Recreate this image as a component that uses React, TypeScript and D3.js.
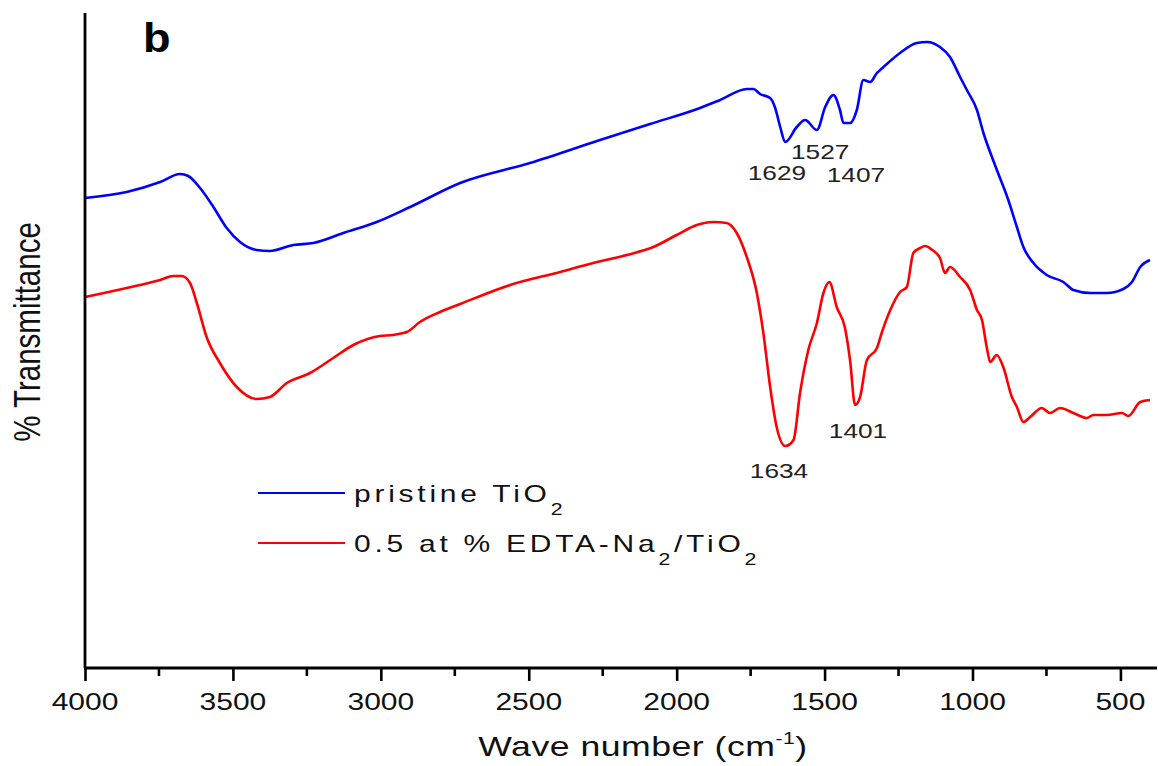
import React, { useEffect, useRef } from 'react';
import * as d3 from 'd3';

// x axis ticks (wave number, cm-1)
const xTicks = [4000, 3500, 3000, 2500, 2000, 1500, 1000, 500];
const xMinorTicks = [3750, 3250, 2750, 2250, 1750, 1250, 750];

// pristine TiO2 spectrum (wave number, transmittance in arbitrary units)
const pristineWave = [4000, 3859, 3746, 3679, 3651, 3611, 3566, 3521, 3476, 3420, 3375, 3296, 3228, 3127, 3014, 2901, 2732, 2496, 2259, 2090, 1921, 1853, 1763, 1741, 1718, 1684, 1667, 1650, 1633, 1594, 1566, 1526, 1498, 1470, 1448, 1436, 1414, 1391, 1369, 1346, 1323, 1301, 1245, 1188, 1154, 1110, 1076, 1042, 1019, 985, 963, 924, 879, 850, 828, 794, 749, 693, 659, 602, 546, 490, 461, 433, 400];
const pristineT = [47.0, 47.6, 48.6, 49.4, 49.2, 48.0, 46.1, 44.0, 42.6, 41.8, 41.7, 42.3, 42.5, 43.5, 44.6, 46.1, 48.5, 50.5, 52.8, 54.4, 56.0, 56.8, 57.9, 57.9, 57.4, 57.0, 56.0, 54.1, 52.6, 54.1, 54.8, 53.8, 56.1, 57.3, 55.8, 54.5, 54.5, 55.8, 58.8, 58.6, 59.5, 60.1, 61.5, 62.5, 62.6, 62.1, 61.1, 59.1, 57.8, 55.8, 53.5, 50.3, 46.8, 44.1, 42.1, 40.5, 39.3, 38.6, 37.8, 37.5, 37.5, 37.9, 38.6, 40.1, 40.8];

// 0.5 at % EDTA-Na2/TiO2 spectrum
const edtaWave = [4000, 3859, 3746, 3701, 3673, 3645, 3622, 3589, 3544, 3487, 3420, 3375, 3318, 3239, 3161, 3093, 3003, 2958, 2924, 2912, 2868, 2800, 2732, 2563, 2394, 2282, 2169, 2079, 2000, 1932, 1876, 1831, 1797, 1763, 1729, 1707, 1684, 1662, 1633, 1605, 1583, 1555, 1526, 1504, 1484, 1459, 1431, 1414, 1397, 1380, 1357, 1323, 1307, 1278, 1245, 1222, 1200, 1177, 1160, 1136, 1110, 1093, 1076, 1042, 1008, 985, 968, 952, 940, 918, 896, 867, 850, 828, 805, 766, 738, 704, 659, 614, 591, 546, 495, 473, 433, 400];
const edtaT = [37.1, 38.0, 38.8, 39.2, 39.2, 38.5, 36.5, 33.1, 30.5, 28.1, 26.9, 27.1, 28.5, 29.5, 31.0, 32.3, 33.2, 33.3, 33.5, 33.6, 34.6, 35.6, 36.4, 38.3, 39.6, 40.5, 41.3, 42.1, 43.3, 44.3, 44.6, 44.5, 43.5, 41.1, 37.5, 33.5, 28.1, 24.1, 22.2, 22.8, 27.5, 31.8, 34.5, 37.5, 38.6, 36.1, 34.0, 30.8, 26.3, 27.1, 30.8, 32.0, 33.5, 35.8, 37.6, 38.1, 41.5, 42.0, 42.2, 41.8, 41.0, 39.5, 40.1, 39.1, 37.8, 35.8, 34.8, 32.1, 30.6, 31.3, 30.1, 27.1, 26.1, 24.6, 25.1, 26.0, 25.5, 26.0, 25.5, 25.0, 25.3, 25.3, 25.5, 25.2, 26.6, 26.8];

// peak annotations: text and where they sit (data units)
const peakText = ['1629', '1527', '1407', '1634', '1401'];
const peakWave = [1661, 1515, 1394, 1654, 1387];
const peakT = [48.8, 50.9, 48.6, 19.0, 23.0];

const seriesNames = ['pristine TiO', '0.5 at % EDTA-Na'];

const FONT = '"Liberation Sans", Arial, sans-serif';
const SX = 1.25; // the source figure is stretched horizontally

const App = () => {
    const svgRef = useRef<SVGSVGElement>(null);

    useEffect(() => {
        const width = 1158;
        const height = 766;

        const svg = d3.select(svgRef.current);
        svg.selectAll('*').remove();
        svg.attr('width', width).attr('height', height);

        const x = d3.scaleLinear().domain([4000, 400]).range([85, 1150]);
        const y = d3.scaleLinear().domain([0, 65.5]).range([668, 13]);

        // helper for horizontally stretched text
        const label = (px: number, py: number, size: number, anchor: string, sx = SX) => {
            const g = svg.append('g').attr('transform', `translate(${px},${py}) scale(${sx},1)`);
            return g.append('text')
                .attr('text-anchor', anchor)
                .attr('font-family', FONT)
                .attr('font-size', size)
                .attr('fill', '#111');
        };

        // spectra
        const line = d3.line<[number, number]>()
            .x(d => x(d[0]))
            .y(d => y(d[1]))
            .curve(d3.curveMonotoneX);

        const pristine = pristineWave.map((w, i) => [w, pristineT[i]] as [number, number]);
        const edta = edtaWave.map((w, i) => [w, edtaT[i]] as [number, number]);

        svg.append('path')
            .attr('d', line(pristine))
            .attr('fill', 'none')
            .attr('stroke', '#0000ff')
            .attr('stroke-width', 2.6)
            .attr('stroke-linejoin', 'round');

        svg.append('path')
            .attr('d', line(edta))
            .attr('fill', 'none')
            .attr('stroke', '#ff0000')
            .attr('stroke-width', 2.6)
            .attr('stroke-linejoin', 'round');

        // axes
        const axisY = 668;
        const axis = svg.append('g').attr('transform', `translate(0,${axisY})`);
        axis.call(d3.axisBottom(x).tickValues(xTicks).tickSize(13).tickSizeOuter(0).tickFormat(() => ''));
        axis.select('.domain').remove();
        axis.selectAll('.tick line').attr('stroke', '#000').attr('stroke-width', 2.6);

        axis.selectAll('.minor')
            .data(xMinorTicks)
            .enter()
            .append('line')
            .attr('x1', d => x(d))
            .attr('x2', d => x(d))
            .attr('y1', 0)
            .attr('y2', 8)
            .attr('stroke', '#000')
            .attr('stroke-width', 2.6);

        svg.append('line')
            .attr('x1', 84).attr('x2', 1157)
            .attr('y1', axisY).attr('y2', axisY)
            .attr('stroke', '#000').attr('stroke-width', 2.8);

        svg.append('line')
            .attr('x1', 85).attr('x2', 85)
            .attr('y1', 13).attr('y2', axisY)
            .attr('stroke', '#000').attr('stroke-width', 2.8);

        // tick labels
        xTicks.forEach(t => {
            label(x(t), 710, 24, 'middle').text(String(t));
        });

        // axis titles
        const xt = label(643, 756, 28.5, 'middle');
        xt.attr('letter-spacing', 0.4);
        xt.append('tspan').text('Wave number (cm');
        xt.append('tspan').attr('font-size', 17).attr('dy', -12).text('-1');
        xt.append('tspan').attr('dy', 12).text(')');

        svg.append('g')
            .attr('transform', `translate(40,332) scale(${SX},1) rotate(-90)`)
            .append('text')
            .attr('text-anchor', 'middle')
            .attr('font-family', FONT)
            .attr('font-size', 29.5)
            .attr('fill', '#111')
            .text('% Transmittance');

        // panel letter
        label(143, 52, 41, 'start', 1.1).attr('font-weight', 'bold').attr('fill', '#000').text('b');

        // peak labels
        peakText.forEach((t, i) => {
            label(x(peakWave[i]), y(peakT[i]), 21, 'middle').attr('fill', '#222').text(t);
        });

        // legend
        const legendColors = ['#0000ff', '#ff0000'];
        const legendY = [493, 543];
        seriesNames.forEach((name, i) => {
            svg.append('line')
                .attr('x1', 258).attr('x2', 345)
                .attr('y1', legendY[i]).attr('y2', legendY[i])
                .attr('stroke', legendColors[i])
                .attr('stroke-width', 2);
            const t = label(354, legendY[i] + 9, 24, 'start').attr('letter-spacing', 3);
            t.append('tspan').text(name);
            t.append('tspan').attr('font-size', 17).attr('dy', 13).text('2');
            if (i === 1) {
                t.append('tspan').attr('dy', -13).text('/TiO');
                t.append('tspan').attr('font-size', 17).attr('dy', 13).text('2');
            }
        });
    }, []);

    return (
        <svg
            ref={svgRef}
            style={{ position: 'absolute', left: 0, top: 0, background: '#fff' }}
        />
    );
};

export default App;
